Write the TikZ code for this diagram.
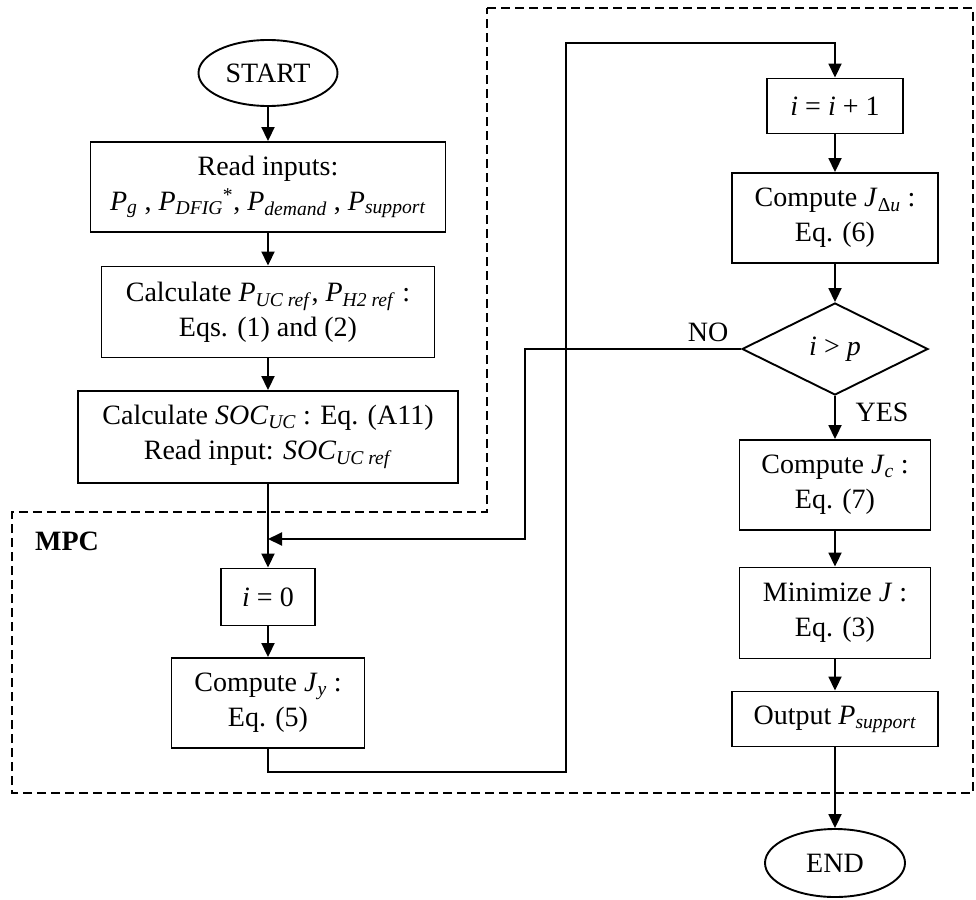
\documentclass[tikz,border=0pt]{standalone}
\usepackage{fontspec}
\setmainfont{Liberation Serif}
\usetikzlibrary{shapes.geometric,arrows.meta}
\newcommand{\vsub}[2]{\textit{#1}\textsubscript{\textit{#2}}}
\begin{document}
\begin{tikzpicture}[
  x=1pt, y=-1pt,
  line width=1.9pt,
  line cap=butt, line join=miter,
  flow/.style={-{Triangle[length=14pt,width=13pt]}},
  mpcdash/.style={line width=1.6pt, dash pattern=on 9pt off 5pt},
  stepbox/.style={draw, rectangle, inner sep=0pt, align=center},
  term/.style={draw, ellipse, inner sep=0pt, minimum width=139pt, minimum height=66pt},
  test/.style={draw, diamond, inner sep=0pt, minimum width=186pt, minimum height=92pt},
  every node/.style={font=\fontsize{28pt}{35pt}\selectfont}
]
  \useasboundingbox (0,0) rectangle (976,899);
  % ---- dashed outline of the MPC block ----
  \draw[mpcdash] (487,8) -- (973,8) -- (973,793) -- (12,793) -- (12,512) -- (487,512) -- cycle;
  \node[font=\fontsize{28pt}{35pt}\selectfont\bfseries] (mpc) at (67,541) {MPC};
  % ---- left column ----
  \node[term] (start) at (268,73) {START};
  \node[stepbox, minimum width=355pt, minimum height=90pt] (read) at (268,187)
    {Read inputs:\\ \vsub{P}{g} , \vsub{P}{DFIG}\textsuperscript{*}, \vsub{P}{demand} , \vsub{P}{support}};
  \node[stepbox, minimum width=333pt, minimum height=91pt] (calcp) at (268,312)
    {Calculate \vsub{P}{UC ref}, \vsub{P}{H2 ref} :\\ Eqs. (1) and (2)};
  \node[stepbox, minimum width=380pt, minimum height=92pt] (soc) at (268,437)
    {Calculate \vsub{SOC}{UC} : Eq. (A11)\\ Read input: \vsub{SOC}{UC ref}};
  \node[stepbox, minimum width=94pt, minimum height=57pt] (izero) at (268,597) {\textit{i} = 0};
  \node[stepbox, minimum width=193pt, minimum height=90pt] (jy) at (268,703)
    {Compute \vsub{J}{y} :\\ Eq. (5)};
  % ---- right column ----
  \node[stepbox, minimum width=136pt, minimum height=55pt] (inc) at (835,106) {\textit{i} = \textit{i} + 1};
  \node[stepbox, minimum width=206pt, minimum height=90pt] (jdu) at (835,218)
    {Compute \textit{J}\textsubscript{Δ\textit{u}} :\\ Eq. (6)};
  \node[test] (dec) at (835,349) {\textit{i} > \textit{p}};
  \node[stepbox, minimum width=191pt, minimum height=90pt] (jc) at (835,485)
    {Compute \vsub{J}{c} :\\ Eq. (7)};
  \node[stepbox, minimum width=191pt, minimum height=91pt] (minj) at (835,613)
    {Minimize \textit{J} :\\ Eq. (3)};
  \node[stepbox, minimum width=206pt, minimum height=55pt] (out) at (835,719)
    {Output \vsub{P}{support}};
  \node[term, minimum width=140pt, minimum height=68pt] (end) at (835,863) {END};
  % ---- connectors ----
  \coordinate (loopbot) at (566,772);
  \coordinate (looptop) at (566,43);
  \coordinate (nocorner) at (525,349);
  \coordinate (merge) at (268,539);
  \draw[flow] (start) -- (read);
  \draw[flow] (read) -- (calcp);
  \draw[flow] (calcp) -- (soc);
  \draw[flow] (soc) -- (izero);
  \draw[flow] (izero) -- (jy);
  \draw[flow] (jy.south) |- (loopbot) -- (looptop) -| (inc.north);
  \draw[flow] (inc) -- (jdu);
  \draw[flow] (jdu) -- (dec);
  \draw[flow] (dec) -- (jc);
  \draw[flow] (jc) -- (minj);
  \draw[flow] (minj) -- (out);
  \draw[flow] (out) -- (end);
  \draw[flow] (dec.west) -- (nocorner) |- (merge);
  \node (no) at (708,332) {NO};
  \node (yes) at (882,412) {YES};
\end{tikzpicture}
\end{document}
